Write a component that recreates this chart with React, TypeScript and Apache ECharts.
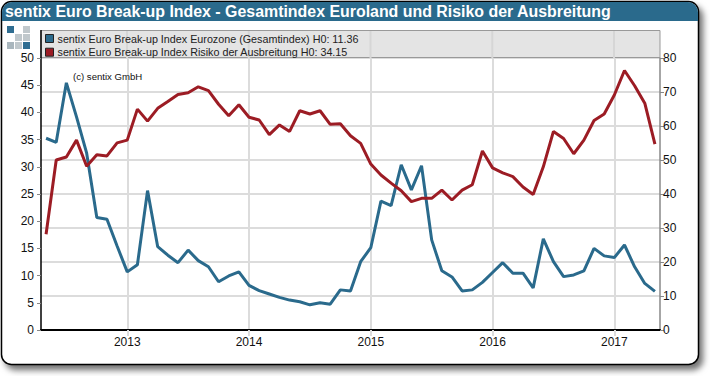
import React, { useEffect, useRef } from "react";
import * as echarts from "echarts";

const months: string[] = [
  "2012-05","2012-06","2012-07","2012-08","2012-09","2012-10","2012-11","2012-12",
  "2013-01","2013-02","2013-03","2013-04","2013-05","2013-06","2013-07","2013-08","2013-09","2013-10","2013-11","2013-12",
  "2014-01","2014-02","2014-03","2014-04","2014-05","2014-06","2014-07","2014-08","2014-09","2014-10","2014-11","2014-12",
  "2015-01","2015-02","2015-03","2015-04","2015-05","2015-06","2015-07","2015-08","2015-09","2015-10","2015-11","2015-12",
  "2016-01","2016-02","2016-03","2016-04","2016-05","2016-06","2016-07","2016-08","2016-09","2016-10","2016-11","2016-12",
  "2017-01","2017-02","2017-03","2017-04","2017-05",
];
const eurozone: number[] = [
  56.4,55.2,72.7,62.7,52.0,33.1,32.6,24.7,
  17.1,19.2,41.0,24.5,22.0,19.8,23.5,20.4,18.6,14.2,15.9,17.1,
  13.1,11.6,10.6,9.6,8.8,8.3,7.4,8.0,7.6,11.8,11.5,20.1,
  24.2,37.9,36.6,48.6,41.2,48.3,26.5,17.4,15.6,11.5,11.8,14.0,
  16.9,19.8,16.7,16.7,12.4,26.8,20.1,15.7,16.2,17.4,24.0,21.8,
  21.3,25.0,18.6,13.7,11.36,
];
const risiko: number[] = [
  17.6,31.25,31.8,34.9,30.1,32.2,32.0,34.4,
  34.9,40.6,38.4,40.75,42.0,43.3,43.6,44.7,44.0,41.5,39.4,41.4,
  39.1,38.6,35.9,37.7,36.5,40.3,39.7,40.3,37.8,37.9,35.7,34.3,
  30.5,28.5,27.0,25.6,23.6,24.2,24.2,25.7,23.9,25.7,26.7,32.9,
  29.8,28.9,28.2,26.3,24.9,30.0,36.5,35.2,32.4,34.9,38.5,39.7,
  43.2,47.7,44.9,41.7,34.15,
];
const seriesNames = [
  "sentix Euro Break-up Index Eurozone (Gesamtindex) H0: 11.36",
  "sentix Euro Break-up Index Risiko der Ausbreitung H0: 34.15",
];
const titleText = "sentix Euro Break-up Index - Gesamtindex Euroland und Risiko der Ausbreitung";
const copyrightText = "(c) sentix GmbH";

const BLUE = "#2a6a8c";
const RED = "#9c1c24";
const GRID = "#dcdcdc";
const FONT = "'Liberation Sans', Arial, sans-serif";

export default function App() {
  const ref = useRef<HTMLDivElement>(null);
  useEffect(() => {
    const chart = echarts.init(ref.current!, undefined, { renderer: "svg" });
    const isJan = (i: number) => months[i].endsWith("-01");
    const square = (x: number, y: number, fill: string) => ({
      type: "rect", z: 5, silent: true, shape: { x, y, width: 7, height: 7 }, style: { fill },
    });
    const legendGrid = (x: number) => ({
      type: "line", z: 2, silent: true,
      shape: { x1: x, y1: 31, x2: x, y2: 58 },
      style: { stroke: "#d6d6d6", lineWidth: 2 },
    });
    chart.setOption({
      animation: false,
      backgroundColor: "transparent",
      grid: { left: 41, right: 50, top: 58, bottom: 46 },
      legend: {
        left: 40,
        top: 29,
        orient: "vertical",
        padding: [4, 0, 0, 5],
        itemWidth: 8,
        itemHeight: 8,
        itemGap: 2.7,
        icon: "rect",
        selectedMode: false,
        itemStyle: { borderColor: "#222", borderWidth: 1 },
        textStyle: { fontFamily: FONT, fontSize: 10.75, color: "#222", padding: [0, 0, 0, -1], lineHeight: 11 },
        data: seriesNames,
        z: 20,
      },
      xAxis: {
        type: "category",
        data: months,
        boundaryGap: true,
        axisLine: { show: true, onZero: false, lineStyle: { color: "#000", width: 2 } },
        axisTick: { show: true, alignWithLabel: true, length: 6, interval: (i: number) => isJan(i), lineStyle: { color: GRID, width: 2 } },
        axisLabel: {
          interval: (i: number) => isJan(i),
          formatter: (v: string) => v.slice(0, 4),
          fontFamily: FONT, fontSize: 12, color: "#111", margin: 6,
        },
        splitLine: { show: true, alignWithLabel: true, interval: (i: number) => isJan(i), lineStyle: { color: GRID, width: 2 } },
      },
      yAxis: [
        {
          type: "value", min: 0, max: 50, interval: 5, position: "left",
          axisLine: { show: true, lineStyle: { color: "#000", width: 1.5 } },
          axisTick: { show: true, length: 4, lineStyle: { color: "#888" } },
          axisLabel: { fontFamily: FONT, fontSize: 12, color: "#111", margin: 7 },
          splitLine: { show: false },
        },
        {
          type: "value", min: 0, max: 80, interval: 10, position: "right",
          axisLine: { show: true, lineStyle: { color: "#888", width: 1.5 } },
          axisTick: { show: true, length: 4, lineStyle: { color: "#888" } },
          axisLabel: { fontFamily: FONT, fontSize: 12, color: "#111", margin: 3 },
          splitLine: { show: true, lineStyle: { color: GRID, width: 2 } },
        },
      ],
      series: [
        { name: seriesNames[0], type: "line", yAxisIndex: 1, data: eurozone, showSymbol: false, color: BLUE, lineStyle: { width: 3, color: BLUE }, z: 4 },
        { name: seriesNames[1], type: "line", yAxisIndex: 0, data: risiko, showSymbol: false, color: RED, lineStyle: { width: 3, color: RED }, z: 5 },
      ],
      graphic: [
        {
          type: "rect", z: -10, silent: true,
          shape: { x: 1.5, y: 1.5, width: 697, height: 363, r: 10 },
          style: { fill: "#fff", stroke: "#000", lineWidth: 1.5, shadowBlur: 6, shadowOffsetX: 4, shadowOffsetY: 5, shadowColor: "rgba(0,0,0,0.55)" },
        },
        {
          type: "rect", z: 5, silent: true,
          shape: { x: 2, y: 2, width: 696, height: 19, r: [10, 10, 0, 0] },
          style: { fill: BLUE },
        },
        {
          type: "text", z: 6, silent: true, x: 5, y: 11.5,
          style: { text: titleText, fill: "#fff", font: `bold 15.92px ${FONT}`, verticalAlign: "middle" },
        },
        square(7, 26, "#2f6d91"), square(23, 26, "#c0c8cc"),
        square(15, 34, "#c0c8cc"), square(23, 34, "#c0c8cc"),
        square(7, 42, "#a9b6bd"), square(15, 42, "#c0c8cc"), square(23, 42, "#2f6d91"),
        {
          type: "rect", z: 1, silent: true,
          shape: { x: 41, y: 30.5, width: 619, height: 27 },
          style: { fill: "#e4e4e4", stroke: "#999", lineWidth: 1 },
        },
        legendGrid(127), legendGrid(248.7), legendGrid(370.5), legendGrid(492.3), legendGrid(614),
        {
          type: "line", z: 6, silent: true,
          shape: { x1: 41, y1: 30, x2: 41, y2: 58 },
          style: { stroke: "#000", lineWidth: 1.5 },
        },
        {
          type: "text", z: 6, silent: true, x: 73, y: 76,
          style: { text: copyrightText, fill: "#111", font: `9.6px ${FONT}`, verticalAlign: "middle" },
        },
      ],
    });
    return () => chart.dispose();
  }, []);
  return <div ref={ref} style={{ position: "absolute", left: 0, top: 0, width: 710, height: 376 }} />;
}
